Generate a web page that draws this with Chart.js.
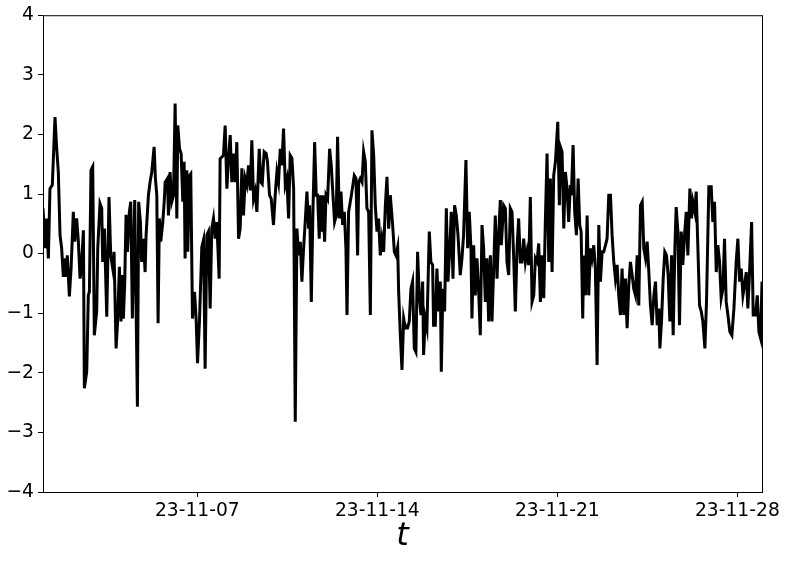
<!DOCTYPE html>
<html>
<head>
<meta charset="utf-8">
<script src="https://cdn.jsdelivr.net/npm/chart.js@4.4.1/dist/chart.umd.min.js"></script>
<style>
  html, body { margin: 0; padding: 0; background: #fff; }
  canvas { display: block; }
</style>
</head>
<body>
<canvas id="chart" width="789" height="561"></canvas>
<script>
// hours since 2023-11-01 00:00
const hours = [
  0, 2.2, 3.4, 5.0, 6.5, 8.7, 11.2, 12.8, 14.3, 15.9, 17.4, 19.0, 20.5, 21.5, 22.7, 24.6, 26.2, 28.3, 29.6, 31.4,
  33.0, 34.6, 35.8, 37.7, 38.6, 40.8, 42.3, 43.3, 44.8, 46.4, 47.9, 50.1, 51.1, 53.2, 54.8, 55.7, 57.3, 59.5, 61.6, 63.2,
  65.1, 66.3, 68.2, 69.7, 71.3, 72.8, 74.1, 75.0, 76.3, 77.5, 78.8, 80.6, 81.9, 83.4, 85.6, 86.9, 88.1, 89.3, 90.9, 92.1,
  93.7, 95.3, 96.2, 98.4, 99.9, 101.5, 103.7, 104.9, 106.2, 107.4, 108.6, 109.9, 111.8, 113.3,
  114.0, 116.1, 117.1, 118.6, 120.2, 121.8, 123.3, 124.9, 125.8, 127.4, 128.9, 130.5, 131.7, 132.6, 134.2, 135.1, 136.7, 137.9, 139.5, 141.4,
  142.9, 144.2, 146.0, 148.2, 149.8, 151.3, 152.9, 154.4, 156.0, 157.5, 159.1, 160.7, 162.2, 164.4, 165.3, 166.9, 168.4, 170.0, 171.6, 173.1,
  174.7, 176.2, 177.8, 179.3, 180.9, 182.5, 184.0, 185.6, 187.1, 188.7, 190.2, 191.8, 193.4, 194.9, 196.5, 198.0, 199.6, 201.8, 203.3, 204.6,
  206.4, 208.3, 209.5, 211.4, 213.0, 215.1, 216.7, 218.3, 219.8, 221.4, 222.9,
  224.5, 226.1, 227.6, 229.2, 230.7, 232.3, 233.9, 235.4, 237.0, 238.5, 240.1, 241.6, 243.2, 244.7, 246.3, 247.9, 248.8, 250.4, 251.9, 253.5,
  255.0, 256.3, 257.8, 258.8, 260.3, 261.2, 262.8, 264.1, 265.6, 267.5, 269.0, 270.6, 272.1, 273.7, 274.9, 276.5, 278.1, 279.6, 281.2, 282.7,
  283.7, 285.2, 286.8, 288.3, 290.5, 292.1, 293.6, 294.6, 296.1, 297.7, 299.2, 300.8, 302.3, 303.9, 305.5, 307.0, 308.6, 310.1, 311.7, 313.2,
  314.8, 316.3, 317.9, 319.5, 321.0, 322.6, 324.1, 326.3, 327.9, 329.4, 331.0, 331.9, 333.5, 335.0, 336.6,
  337.1, 338.7, 340.2, 341.8, 343.4, 344.9, 346.5, 348.0, 349.6, 351.1, 352.7, 354.3, 355.2, 356.7, 358.3, 360.5, 362.0, 363.6, 364.5, 366.1,
  367.6, 369.2, 370.8, 371.7, 373.2, 374.8, 376.4, 377.9, 379.5, 381.0, 382.6, 384.1, 385.7, 387.3, 389.4, 391.0, 392.5, 394.7, 396.3, 397.8,
  399.4, 400.3, 401.9, 403.4, 405.0, 406.6, 408.1, 409.7, 411.2, 412.8, 414.3, 415.9, 417.5, 419.0, 420.6, 422.1, 423.7, 425.2, 426.8, 427.7,
  429.9, 431.5, 433.0, 434.6, 436.1, 437.7, 439.2, 440.8, 442.4, 443.9, 445.5, 447.0, 448.6,
  450.2, 451.7, 453.3, 454.8, 456.4, 458.0, 459.5, 461.1, 462.6, 464.2, 465.7, 467.3, 468.8, 470.4, 472.0, 473.5, 475.1, 476.6, 478.2, 480.4,
  481.9, 482.9, 484.4, 486.0, 487.5, 489.1, 490.6, 492.2, 493.1, 494.7, 496.2, 497.8, 499.4, 500.9, 502.2, 503.7, 504.6, 506.2, 507.8, 509.3,
  510.9, 512.4, 514.0, 515.5, 517.1, 518.7, 520.2, 521.8, 523.3, 524.9, 526.4, 528.0, 529.6, 531.1, 532.7, 534.2, 535.8, 537.3, 538.9, 540.4,
  542.0, 543.6, 545.1, 546.7, 548.2, 549.8, 551.3, 552.9, 554.5, 556.0, 557.6,
  559.2, 560.7, 562.3, 563.8, 565.4, 566.9, 568.5, 570.1, 571.6, 573.2, 574.7, 575.7, 577.2, 578.8, 580.3, 581.9, 583.4, 585.0, 586.6, 588.1,
  589.7, 590.9, 592.5, 594.0, 595.6, 597.1, 598.7, 600.3, 601.8, 603.7, 605.2, 606.5, 608.3, 609.6, 611.1, 612.7, 614.3, 615.8, 617.7, 619.2,
  621.4, 623.6, 625.1, 626.7, 628.3, 629.8, 631.4, 632.9, 634.5, 636.0, 637.6, 639.2, 641.0, 642.9, 644.8, 646.9, 648.5, 650.1, 651.6, 653.2,
  654.7, 656.3, 657.8, 659.4, 661.3, 662.8, 665.0, 666.6, 668.1, 669.7, 671
];

const values = [
  0.76, 0.09, 0.59, -0.08, 1.09, 1.15, 2.29, 1.76, 1.37, 0.31, 0.09, -0.39, -0.08, -0.39, -0.03, -0.72, -0.25, 0.70, 0.20, 0.59,
  0.20, -0.42, -0.25, 0.39, -2.26, -1.98, -0.70, -0.64, 1.40, 1.46, -1.37, -0.97, 0.09, 0.84, 0.76, -0.14, 0.42, -1.06, 0.95, -0.03,
  -0.25, 0.03, -1.59, -1.11, -0.22, -1.14, -0.36, -1.09, -0.47, 0.65, 0.03, 0.70, 0.87, -1.09, 0.90, -0.92, -2.57, 0.87, 0.53, -0.14,
  0.25, -0.31, 0.31, 0.98, 1.20, 1.37, 1.79, 1.26, 0.98, -1.17, 0.59, 0.20, 0.53, 0.92,
  1.20, 1.26, 0.64, 1.37, 0.87, 0.98, 2.52, 0.59, 2.15, 1.76, 1.68, 0.87, 1.54, -0.08, 1.40, 0.03, 1.31, 1.34, -1.09, -0.64,
  -1.09, -1.84, -1.14, 0.11, 0.23, -1.93, 0.31, 0.37, -0.92, 0.42, 0.59, 0.25, 0.53, -0.42, 1.59, 1.62, 1.65, 2.15, 1.09, 1.59,
  1.99, 1.20, 1.68, 1.20, 1.87, 0.25, 0.42, 1.43, 0.64, 1.26, 1.15, 1.48, 1.06, 1.90, 0.92, 1.04, 0.70, 1.76, 1.20, 1.17,
  1.71, 1.68, 1.54, 0.98, 0.92, 0.48, 0.98, 1.37, 1.20, 1.76, 1.48,
  2.10, 1.15, 1.26, 0.59, 1.65, 1.60, 1.09, -2.82, 0.42, -0.03, 0.20, -0.47, 0.09, 0.53, 1.04, 0.42, 0.81, -0.81, 0.70, 1.87,
  0.98, 0.98, 0.25, 0.98, 0.37, 0.98, 0.20, 0.98, 0.92, 1.76, 1.48, 0.98, 0.53, 0.64, 1.96, 0.59, 1.04, 0.48, 0.70, 0.09,
  -1.03, 0.70, 0.87, 1.04, 1.31, 1.26, -0.03, 1.20, 1.26, 1.20, 1.71, 1.54, 0.76, 0.70, -1.03, 2.07, 1.65, 0.81, 0.37, 0.59,
  -0.03, 0.25, 0.03, 0.81, 1.29, 0.42, 0.98, 0.48, 0.03, -0.03, 0.11, -0.64, -1.37, -1.95, -1.09,
  -1.14, -1.25, -1.25, -1.14, -0.59, -0.47, -1.59, -1.65, 0.03, -0.70, -1.03, -0.47, -1.70, -1.09, -1.25, 0.37, -0.14, -0.19, -1.20, -1.20,
  -0.25, -0.97, -0.47, -1.98, -0.59, -0.97, 0.76, -0.47, 0.03, 0.70, -0.42, 0.81, 0.64, 0.31, -0.36, -0.08, 0.31, 1.57, 0.09, 0.70,
  0.09, -1.09, 0.14, -0.70, -0.08, -0.64, -1.37, 0.48, 0.09, -0.81, -0.08, -1.14, -0.03, -1.14, -0.25, 0.64, -0.42, 0.31, 0.90, 0.14,
  0.81, 0.76, -0.14, -0.36, 0.76, 0.70, -0.03, -0.97, 0.09, 0.59, -0.14, -0.14, 0.25,
  -0.14, 0.03, -0.19, 0.95, -0.81, -0.70, -0.08, -0.14, 0.17, -0.81, -0.03, -0.75, 0.53, 1.68, -0.14, 1.26, -0.31, 1.31, 1.54, 2.21,
  0.81, 1.79, 1.71, 0.42, 1.37, 1.09, 0.53, 1.15, 0.98, 1.82, 0.70, 0.31, 1.26, 0.48, 0.37, -1.09, -0.03, -0.70, 0.64, -0.70,
  0.09, -0.08, 0.14, -0.25, -1.87, 0.48, -0.47, 0.03, 0.03, 0.14, 0.25, 0.98, 0.98, 0.31, -0.14, -0.42, -0.19, -0.70, -1.03, -0.25,
  -1.03, -0.42, -1.25, -0.53, -0.14, -0.36, -0.59, -0.70, -0.03, -0.87, 0.81,
  0.87, 0.09, -0.08, 0.20, -0.31, -0.87, -1.20, -0.70, -0.47, -1.20, -0.92, -1.59, -1.14, -0.42, 0.03, -0.03, -0.36, -1.14, -0.03, -1.37,
  0.09, 0.78, 0.37, -1.20, 0.37, -0.19, 0.31, 0.70, -0.03, 1.09, 0.59, 0.87, 0.70, 1.04, 0.14, -0.87, -0.97, -1.14, -1.59, -0.81,
  1.12, 1.12, 0.53, 0.87, -0.31, 0.14, -0.14, -0.75, -0.59, 0.25, -0.81, -1.03, -1.31, -1.37, -0.92, -0.14, 0.25, -0.47, -0.25, -0.70,
  -0.53, -0.31, -0.92, -0.31, 0.53, -1.03, -1.03, -0.70, -1.31, -1.42, -0.47
];

const xTickHours = [144, 312, 480, 648];
const xTickLabels = ['23-11-07', '23-11-14', '23-11-21', '23-11-28'];
const yTicks = [-4, -3, -2, -1, 0, 1, 2, 3, 4];

const tickFont = { family: 'DejaVu Sans', size: 18.7 };

/* marco completo alrededor del área del gráfico */
const frame = {
  id: 'frame',
  afterDraw(chart) {
    const { ctx, chartArea: a } = chart;
    ctx.save();
    ctx.strokeStyle = '#000';
    ctx.lineWidth = 1;
    ctx.strokeRect(a.left + 0.5, a.top + 0.5, a.right - a.left, a.bottom - a.top);
    ctx.restore();
  },
};

new Chart(document.getElementById('chart'), {
  type: 'line',
  data: {
    datasets: [{
      data: hours.map((h, i) => ({ x: h, y: values[i] })),
      borderColor: '#000',
      borderWidth: 3,
      pointRadius: 0,
      tension: 0,
      fill: false,
    }],
  },
  options: {
    responsive: false,
    animation: false,
    layout: { padding: { top: 15, right: 27, left: 0, bottom: 0 } },
    plugins: { legend: { display: false }, tooltip: { enabled: false } },
    scales: {
      x: {
        type: 'linear',
        min: 0, max: 671,
        afterFit(scale) { scale.height = 69; },
        afterBuildTicks(scale) { scale.ticks = xTickHours.map((v) => ({ value: v })); },
        ticks: {
          color: '#000', font: tickFont, padding: 3, maxRotation: 0, autoSkip: false,
          callback: (v) => xTickLabels[xTickHours.indexOf(v)] || '',
        },
        grid: { display: true, drawOnChartArea: false, drawTicks: true, tickLength: 5, color: '#000' },
        border: { display: false },
        title: {
          display: true, text: 't', color: '#000',
          font: { family: 'DejaVu Sans', size: 32, style: 'italic' },
          padding: { top: 0, bottom: 5 },
        },
      },
      y: {
        min: -4, max: 4,
        afterFit(scale) { scale.width = 43; },
        afterBuildTicks(scale) { scale.ticks = yTicks.map((v) => ({ value: v })); },
        ticks: {
          color: '#000', font: tickFont, padding: 4,
          callback: (v) => String(v).replace('-', '\u2212'),
        },
        grid: { display: true, drawOnChartArea: false, drawTicks: true, tickLength: 5, color: '#000' },
        border: { display: false },
      },
    },
  },
  plugins: [frame],
});
</script>
</body>
</html>
